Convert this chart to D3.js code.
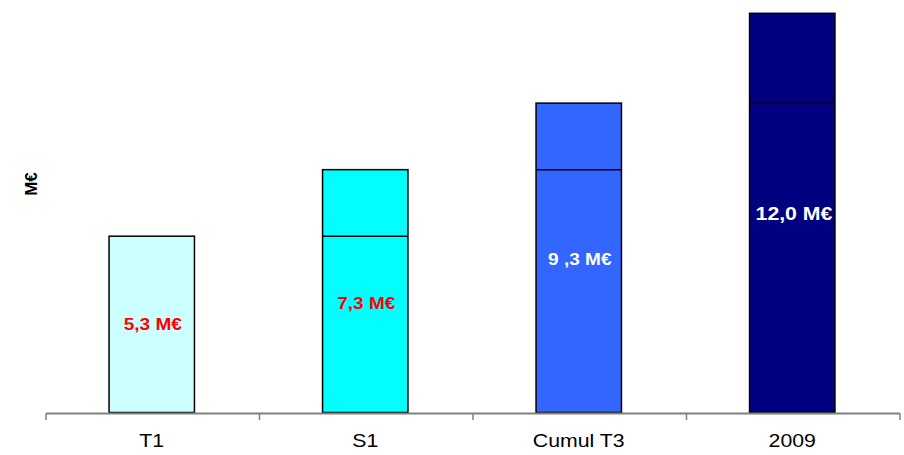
<!DOCTYPE html>
<html><head><meta charset="utf-8">
<script src="https://cdn.jsdelivr.net/npm/d3@7"></script>
<style>body{margin:0;background:#fff;} svg{display:block;}</style>
</head><body>
<svg id="c" width="904" height="455"></svg>
<script>
const categories = ["T1", "S1", "Cumul T3", "2009"];
const previousTotals = [5.3, 5.3, 7.3, 9.3];   // level of the divider line
const totals = [5.3, 7.3, 9.3, 12.0];
const labels = ["5,3 M€", "7,3 M€", "9 ,3 M€", "12,0 M€"];
const labelValues = [2.65, 3.3, 4.6, 6.0];
const colors = ["#CCFFFF", "#00FFFF", "#3366FF", "#000080"];
const labelColors = ["#FF0000", "#FF0000", "#FFFFFF", "#FFFFFF"];

const svg = d3.select("#c");
const x = d3.scaleBand().domain(categories).range([46, 900]).padding(0);
const y = d3.scaleLinear().domain([0, 12.4]).range([412.5, 0]);
const barW = x.bandwidth() * 0.4;
const SX = 1.12;
const font = "Liberation Sans, Arial, sans-serif";

const bars = categories.map((c, i) => ({c, i, lower: previousTotals[i], total: totals[i]}));
const bx = d => x(d.c) + x.bandwidth()/2 - barW/2 - 1;

const g = svg.append("g");
g.selectAll("rect.full").data(bars).join("rect")
  .attr("x", bx)
  .attr("y", d => y(d.total))
  .attr("width", barW)
  .attr("height", d => y(0) - y(d.total))
  .attr("fill", d => colors[d.i])
  .attr("stroke", "#000").attr("stroke-width", 1.5);

g.selectAll("line.div").data(bars.filter(d => d.lower < d.total)).join("line")
  .attr("x1", bx)
  .attr("x2", d => bx(d) + barW)
  .attr("y1", d => y(d.lower)).attr("y2", d => y(d.lower))
  .attr("stroke", "#000").attr("stroke-width", 1.5);

// axis
svg.append("line").attr("x1", 46).attr("x2", 900).attr("y1", 413.5).attr("y2", 413.5)
  .attr("stroke", "#808080").attr("stroke-width", 2);
const edges = categories.map(c => x(c)).concat([x.range()[1]]);
svg.selectAll("line.tick").data(edges).join("line")
  .attr("x1", d => d).attr("x2", d => d).attr("y1", 413.5).attr("y2", 420)
  .attr("stroke", "#808080").attr("stroke-width", 1.5);

svg.selectAll("text.cat").data(categories).join("text")
  .attr("transform", d => `translate(${x(d) + x.bandwidth()/2 - 1},447) scale(${SX},1)`)
  .attr("text-anchor", "middle")
  .attr("font-family", font)
  .attr("font-size", 19)
  .attr("fill", "#000")
  .text(d => d);

// value labels
const defs = svg.append("defs");
bars.forEach(d => {
  defs.append("clipPath").attr("id", "cl" + d.i).append("rect")
    .attr("x", bx(d) - 1).attr("y", y(d.total)).attr("width", barW + 2).attr("height", y(0) - y(d.total));
});
svg.selectAll("text.val").data(bars).join("g")
  .attr("clip-path", d => d.i === 3 ? `url(#cl${d.i})` : null)
  .append("text")
  .attr("transform", d => {
    const tx = d.i === 3 ? bx(d) + 6 : x(d.c) + x.bandwidth()/2;
    return `translate(${tx},${y(labelValues[d.i]) + (d.i === 3 ? 7 : 6)}) scale(${SX},1)`;
  })
  .attr("text-anchor", d => d.i === 3 ? "start" : "middle")
  .attr("font-family", font)
  .attr("font-size", d => d.i === 3 ? 19 : 17).attr("font-weight", "bold")
  .attr("fill", d => labelColors[d.i])
  .text(d => labels[d.i]);

svg.append("text")
  .attr("transform", "translate(37,184) rotate(-90)")
  .attr("text-anchor", "middle")
  .attr("font-family", font)
  .attr("font-size", 17).attr("font-weight", "bold")
  .text("M€");
</script>
</body></html>
